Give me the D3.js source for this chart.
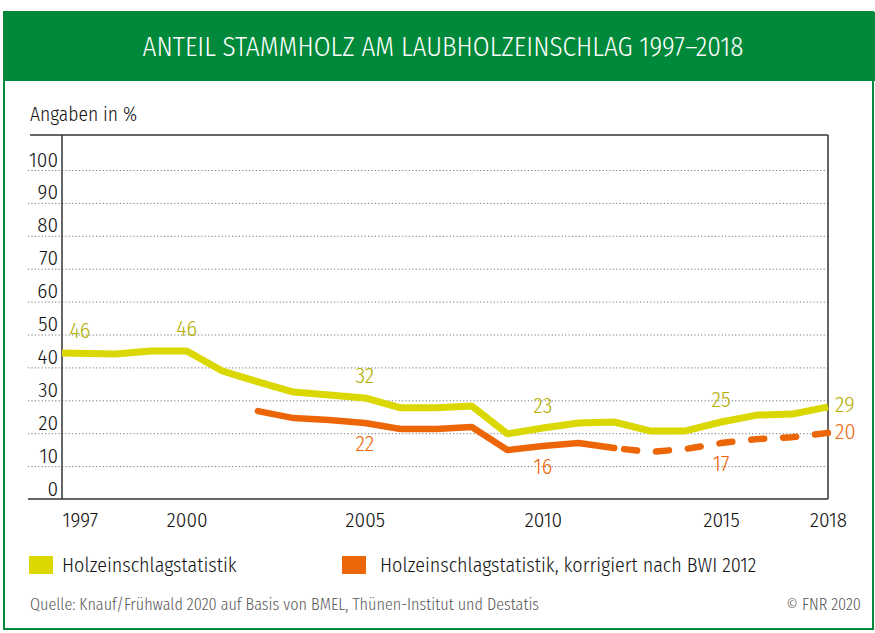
<!DOCTYPE html>
<html>
  <head>
    <meta charset="UTF-8" />
    <style>
      body { margin: 0; background: #fff; }
      text { font-family: "Fira Sans Condensed", "Liberation Sans Narrow", "DejaVu Sans Condensed", sans-serif; font-weight: 300; }
    </style>
    <script src="https://d3js.org/d3.v7.min.js"></script>
  </head>

  <body>
    <svg id="svg"></svg>

    <script>
      // data
      var years = [1997, 1998, 1999, 2000, 2001, 2002, 2003, 2004, 2005, 2006, 2007,
        2008, 2009, 2010, 2011, 2012, 2013, 2014, 2015, 2016, 2017, 2018];
      var holz = [44.4, 44.1, 45.0, 45.0, 38.9, 35.6, 32.5, 31.6, 30.7, 27.7, 27.7,
        28.3, 19.8, 21.6, 23.1, 23.4, 20.7, 20.7, 23.4, 25.5, 25.8, 28.0];
      var korr = [null, null, null, null, null, 26.7, 24.6, 24.0, 23.1, 21.3, 21.3,
        21.9, 14.9, 16.1, 17.0, 15.5, 14.3, 15.2, 17.0, 18.2, 18.8, 20.1];
      var korrDashedFrom = 2012;

      var holzLabelYears = [1997, 2000, 2005, 2010, 2015];
      var holzLabelTexts = ["46", "46", "32", "23", "25"];
      var korrLabelYears = [2005, 2010, 2015];
      var korrLabelTexts = ["22", "16", "17"];
      var holzEndLabel = "29",
        korrEndLabel = "20";

      var yTicks = [0, 10, 20, 30, 40, 50, 60, 70, 80, 90, 100];
      var xTicks = [1997, 2000, 2005, 2010, 2015, 2018];
      var legendNames = ["Holzeinschlagstatistik", "Holzeinschlagstatistik, korrigiert nach BWI 2012"];

      var green = "#00893a",
        yellow = "#dad800",
        yellowText = "#b3ae00",
        orange = "#ec6608",
        dark = "#333";

      var width = 875,
        height = 633;

      var svg = d3.select("#svg").attr("width", width).attr("height", height);

      // frame and banner
      svg.append("rect")
        .attr("x", 4).attr("y", 12).attr("width", 869).attr("height", 617)
        .attr("fill", "none").attr("stroke", green).attr("stroke-width", 2);
      svg.append("rect")
        .attr("x", 4).attr("y", 12).attr("width", 871).attr("height", 69)
        .attr("fill", green);
      svg.append("text")
        .attr("x", 443).attr("y", 56)
        .attr("text-anchor", "middle")
        .attr("fill", "white")
        .style("font-size", "27px")
        .text("ANTEIL STAMMHOLZ AM LAUBHOLZEINSCHLAG 1997\u20132018");

      svg.append("text")
        .attr("x", 30).attr("y", 121)
        .attr("fill", "#111")
        .style("font-size", "19.5px")
        .text("Angaben in %");

      var x = d3.scaleLinear().domain([1996.5, 2018]).range([62, 828]);
      var y = d3.scaleLinear().domain([0, 100]).range([499, 170]);

      // y gridlines + labels
      var yAxis = svg.append("g")
        .attr("transform", "translate(28,0)")
        .call(d3.axisRight(y).tickValues(yTicks).tickSize(800));
      yAxis.select(".domain").remove();
      yAxis.selectAll(".tick line")
        .attr("stroke", "#777")
        .attr("stroke-dasharray", "1.2,2.2")
        .attr("stroke-width", 1);
      yAxis.selectAll(".tick")
        .filter((d) => d === 0)
        .select("line").remove();
      yAxis.selectAll(".tick text")
        .attr("x", 30)
        .attr("dy", -4)
        .attr("text-anchor", "end")
        .attr("fill", "#111")
        .style("font-size", "21px");

      // frame of the plot
      svg.append("line").attr("x1", 30).attr("x2", 828).attr("y1", 135).attr("y2", 135)
        .attr("stroke", dark).attr("stroke-width", 1.5);
      svg.append("line").attr("x1", 62).attr("x2", 62).attr("y1", 135).attr("y2", 499)
        .attr("stroke", dark).attr("stroke-width", 1.5);
      svg.append("line").attr("x1", 828).attr("x2", 828).attr("y1", 135).attr("y2", 499)
        .attr("stroke", dark).attr("stroke-width", 1.5);
      svg.append("line").attr("x1", 28).attr("x2", 828).attr("y1", 499).attr("y2", 499)
        .attr("stroke", dark).attr("stroke-width", 1.5);

      // x axis labels
      var xAxis = svg.append("g")
        .attr("transform", "translate(0,499)")
        .call(d3.axisBottom(x).tickValues(xTicks).tickSize(0).tickFormat(d3.format("d")));
      xAxis.select(".domain").remove();
      xAxis.selectAll(".tick text")
        .attr("dy", 0)
        .attr("y", 28)
        .attr("fill", "#111")
        .style("font-size", "21px");

      var holzData = years.map((yr, i) => ({ year: yr, v: holz[i] }));
      var korrData = years.map((yr, i) => ({ year: yr, v: korr[i] }));

      // first point sits on the left axis
      var px = (d) => (d.year === years[0] ? x.range()[0] : x(d.year));
      var line = d3.line()
        .defined((d) => d.v !== null)
        .x(px)
        .y((d) => y(d.v));

      svg.append("path")
        .datum(holzData)
        .attr("fill", "none")
        .attr("stroke", yellow)
        .attr("stroke-width", 7)
        .attr("stroke-linejoin", "round")
        .attr("d", line);

      svg.append("path")
        .datum(korrData.filter((d) => d.year <= korrDashedFrom))
        .attr("fill", "none")
        .attr("stroke", orange)
        .attr("stroke-width", 6.5)
        .attr("stroke-linejoin", "round")
        .attr("stroke-linecap", "round")
        .attr("d", line);

      svg.append("path")
        .datum(korrData.filter((d) => d.year >= korrDashedFrom))
        .attr("fill", "none")
        .attr("stroke", orange)
        .attr("stroke-width", 6.5)
        .attr("stroke-linecap", "round")
        .attr("stroke-linejoin", "round")
        .attr("stroke-dasharray", "13,19")
        .attr("stroke-dashoffset", 22)
        .attr("d", line);

      // value labels
      var holzAt = (yr) => holz[years.indexOf(yr)];
      var korrAt = (yr) => korr[years.indexOf(yr)];

      svg.append("g").selectAll("text")
        .data(holzLabelYears)
        .enter()
        .append("text")
        .attr("x", (d) => x(d))
        .attr("y", (d) => y(holzAt(d)) - 15)
        .attr("text-anchor", "middle")
        .attr("fill", yellowText)
        .style("font-size", "22px")
        .text((d, i) => holzLabelTexts[i]);

      svg.append("g").selectAll("text")
        .data(korrLabelYears)
        .enter()
        .append("text")
        .attr("x", (d) => x(d))
        .attr("y", (d) => y(korrAt(d)) + 28)
        .attr("text-anchor", "middle")
        .attr("fill", orange)
        .style("font-size", "22px")
        .text((d, i) => korrLabelTexts[i]);

      var lastYear = years[years.length - 1];
      svg.append("text")
        .attr("x", x(lastYear) + 7)
        .attr("y", y(holzAt(lastYear)) + 5)
        .attr("fill", yellowText)
        .style("font-size", "22px")
        .text(holzEndLabel);
      svg.append("text")
        .attr("x", x(lastYear) + 7)
        .attr("y", y(korrAt(lastYear)) + 6)
        .attr("fill", orange)
        .style("font-size", "22px")
        .text(korrEndLabel);

      // legend
      var legendColors = [yellow, orange];
      var legendX = [29, 342];
      var legendTextX = [62, 380];
      legendNames.forEach((name, i) => {
        svg.append("rect")
          .attr("x", legendX[i]).attr("y", 556)
          .attr("width", 24).attr("height", 18)
          .attr("fill", legendColors[i]);
        svg.append("text")
          .attr("x", legendTextX[i]).attr("y", 572)
          .attr("fill", "#111")
          .style("font-size", "20px")
          .text(name);
      });

      // source
      svg.append("text")
        .attr("x", 30).attr("y", 610)
        .attr("fill", "#555")
        .style("font-size", "16.1px")
        .text("Quelle: Knauf/Frühwald 2020 auf Basis von BMEL, Thünen-Institut und Destatis");
      svg.append("text")
        .attr("x", 861).attr("y", 610)
        .attr("text-anchor", "end")
        .attr("fill", "#555")
        .style("font-size", "16.1px")
        .text("\u00a9 FNR 2020");
    </script>
  </body>
</html>
